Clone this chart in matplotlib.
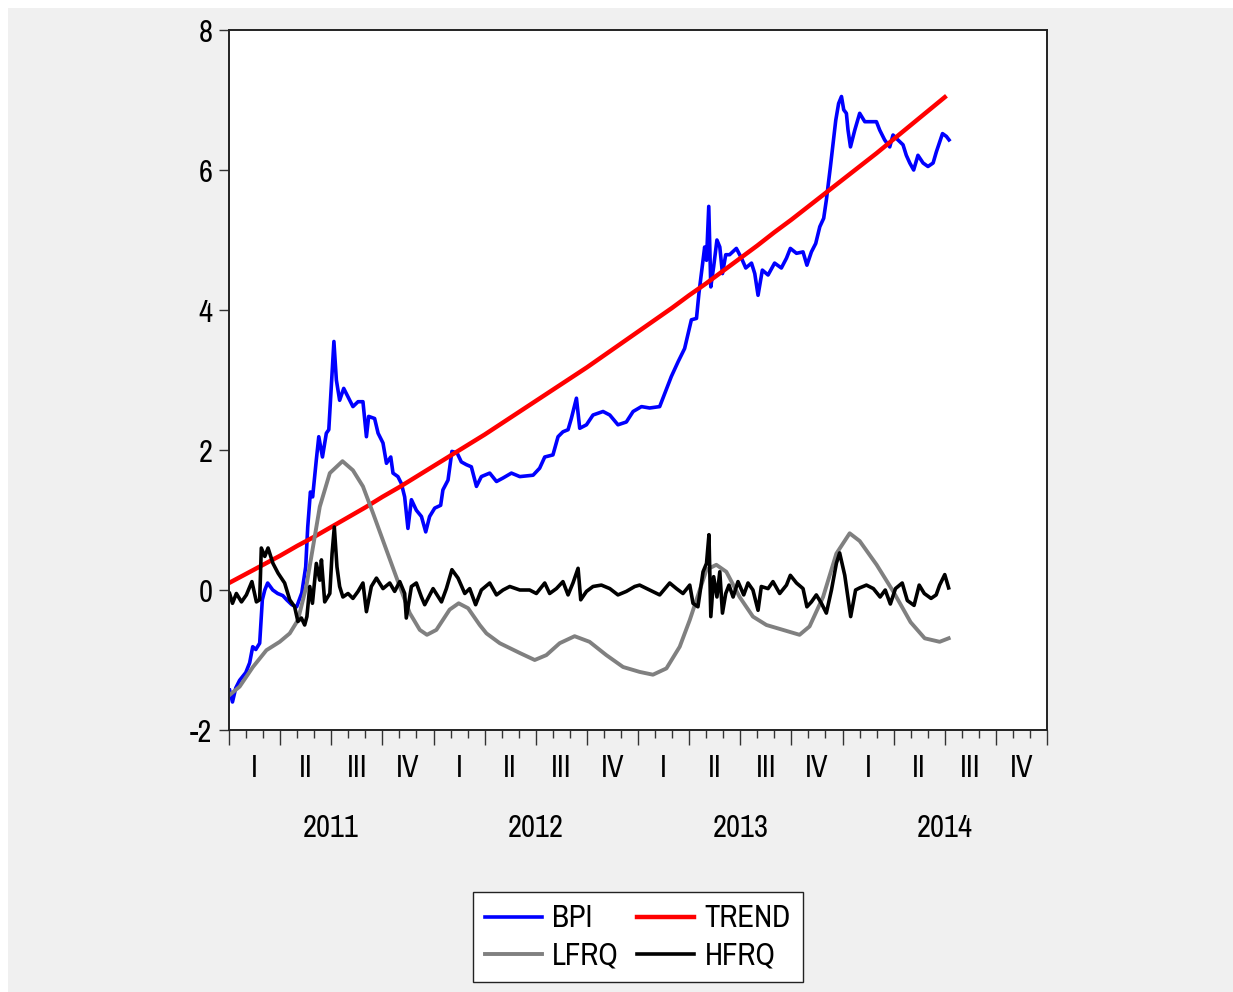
import matplotlib
matplotlib.use("Agg")
import matplotlib.pyplot as plt
from matplotlib.patches import Rectangle
from matplotlib.ticker import FixedLocator, NullFormatter

plt.rcParams['font.family'] = ['Archivo Narrow', 'Liberation Sans', 'DejaVu Sans']

# time axis in decimal years
bpi_t = [2011.003, 2011.017, 2011.033, 2011.052, 2011.082, 2011.101, 2011.116, 2011.131, 2011.150, 2011.163,
         2011.175, 2011.189, 2011.214, 2011.238, 2011.263, 2011.282, 2011.307, 2011.331, 2011.356, 2011.375,
         2011.385, 2011.398, 2011.409, 2011.427, 2011.439, 2011.457, 2011.476, 2011.488, 2011.501, 2011.513,
         2011.525, 2011.541, 2011.561, 2011.582, 2011.606, 2011.631, 2011.655, 2011.672, 2011.683, 2011.712,
         2011.729, 2011.753, 2011.770, 2011.791, 2011.802, 2011.826, 2011.843, 2011.859, 2011.875, 2011.892,
         2011.916, 2011.941, 2011.962, 2011.981, 2012.006, 2012.035, 2012.046, 2012.071, 2012.090, 2012.115,
         2012.136, 2012.161, 2012.185, 2012.210, 2012.234, 2012.275, 2012.308, 2012.340, 2012.381, 2012.422,
         2012.487, 2012.519, 2012.544, 2012.584, 2012.609, 2012.633, 2012.658, 2012.674, 2012.699, 2012.715,
         2012.748, 2012.780, 2012.829, 2012.862, 2012.902, 2012.943, 2012.976, 2013.017, 2013.057, 2013.106,
         2013.131, 2013.163, 2013.196, 2013.228, 2013.249, 2013.261, 2013.286, 2013.298, 2013.310, 2013.326,
         2013.335, 2013.346, 2013.356, 2013.370, 2013.386, 2013.400, 2013.413, 2013.429, 2013.448, 2013.481,
         2013.506, 2013.527, 2013.555, 2013.571, 2013.587, 2013.608, 2013.636, 2013.668, 2013.701, 2013.726,
         2013.745, 2013.775, 2013.807, 2013.826, 2013.848, 2013.869, 2013.889, 2013.908, 2013.921, 2013.941,
         2013.954, 2013.967, 2013.981, 2013.995, 2014.006, 2014.019, 2014.027, 2014.039, 2014.060, 2014.084,
         2014.109, 2014.133, 2014.166, 2014.182, 2014.206, 2014.231, 2014.247, 2014.271, 2014.296, 2014.312,
         2014.329, 2014.348, 2014.369, 2014.394, 2014.418, 2014.443, 2014.459, 2014.475, 2014.489, 2014.508,
         2014.521]
bpi = [-1.43, -1.60, -1.40, -1.29, -1.18, -1.04, -0.81, -0.85, -0.76, -0.14,
       0.00, 0.10, 0.00, -0.05, -0.08, -0.14, -0.21, -0.24, -0.04, 0.33,
       0.90, 1.40, 1.33, 1.86, 2.19, 1.90, 2.24, 2.29, 2.95, 3.55,
       3.00, 2.71, 2.88, 2.76, 2.62, 2.69, 2.69, 2.19, 2.48, 2.45,
       2.24, 2.10, 1.81, 1.90, 1.67, 1.62, 1.52, 1.33, 0.88, 1.29,
       1.14, 1.05, 0.83, 1.05, 1.17, 1.21, 1.43, 1.57, 1.98, 1.96,
       1.83, 1.79, 1.76, 1.48, 1.62, 1.67, 1.55, 1.60, 1.67, 1.62,
       1.64, 1.74, 1.90, 1.93, 2.19, 2.26, 2.29, 2.45, 2.74, 2.31,
       2.36, 2.50, 2.55, 2.50, 2.36, 2.40, 2.55, 2.62, 2.60, 2.62,
       2.81, 3.05, 3.26, 3.45, 3.71, 3.86, 3.88, 4.24, 4.52, 4.90,
       4.71, 5.48, 4.33, 4.62, 5.00, 4.90, 4.52, 4.79, 4.79, 4.88,
       4.74, 4.60, 4.67, 4.52, 4.21, 4.57, 4.50, 4.67, 4.60, 4.74,
       4.88, 4.81, 4.83, 4.64, 4.83, 4.95, 5.19, 5.31, 5.57, 6.05,
       6.38, 6.71, 6.95, 7.05, 6.86, 6.81, 6.57, 6.33, 6.57, 6.81,
       6.69, 6.69, 6.69, 6.57, 6.43, 6.33, 6.50, 6.43, 6.36, 6.21,
       6.10, 6.00, 6.21, 6.10, 6.05, 6.10, 6.26, 6.40, 6.52, 6.48,
       6.43]

# trend, first day of each month 2011-01 .. 2014-07
trend_t = [2011 + m / 12 for m in range(43)]
trend = [0.10, 0.23, 0.36, 0.49, 0.63, 0.76, 0.90, 1.04, 1.18, 1.33,
         1.47, 1.62, 1.77, 1.92, 2.07, 2.22, 2.38, 2.54, 2.70, 2.86,
         3.02, 3.18, 3.35, 3.52, 3.69, 3.86, 4.03, 4.21, 4.38, 4.56,
         4.74, 4.92, 5.11, 5.29, 5.48, 5.67, 5.86, 6.05, 6.24, 6.44,
         6.64, 6.84, 7.04]

lfrq_t = [2011.003, 2011.052, 2011.117, 2011.183, 2011.248, 2011.297, 2011.337, 2011.378, 2011.411, 2011.444,
          2011.493, 2011.555, 2011.606, 2011.655, 2011.704, 2011.770, 2011.835, 2011.884, 2011.933, 2011.968,
          2012.014, 2012.079, 2012.123, 2012.169, 2012.226, 2012.259, 2012.324, 2012.422, 2012.495, 2012.552,
          2012.617, 2012.690, 2012.763, 2012.845, 2012.927, 2013.008, 2013.073, 2013.139, 2013.204, 2013.253,
          2013.286, 2013.335, 2013.383, 2013.432, 2013.497, 2013.562, 2013.628, 2013.709, 2013.790, 2013.839,
          2013.905, 2013.970, 2014.035, 2014.084, 2014.167, 2014.250, 2014.333, 2014.402, 2014.475, 2014.519]
lfrq = [-1.50, -1.38, -1.10, -0.86, -0.74, -0.62, -0.43, 0.05, 0.62, 1.19,
        1.67, 1.84, 1.71, 1.48, 1.10, 0.57, 0.05, -0.33, -0.57, -0.64,
        -0.57, -0.28, -0.19, -0.26, -0.50, -0.62, -0.76, -0.90, -1.00, -0.93,
        -0.76, -0.66, -0.74, -0.93, -1.10, -1.17, -1.21, -1.12, -0.81, -0.43,
        -0.14, 0.29, 0.36, 0.26, -0.10, -0.38, -0.50, -0.57, -0.64, -0.52,
        -0.10, 0.52, 0.81, 0.70, 0.36, -0.03, -0.46, -0.69, -0.74, -0.69]

hfrq_t = [2011.003, 2011.017, 2011.036, 2011.061, 2011.085, 2011.112, 2011.134, 2011.150, 2011.158, 2011.175,
          2011.191, 2011.215, 2011.240, 2011.272, 2011.297, 2011.321, 2011.337, 2011.354, 2011.370, 2011.381,
          2011.395, 2011.408, 2011.427, 2011.444, 2011.452, 2011.468, 2011.493, 2011.504, 2011.515, 2011.528,
          2011.541, 2011.557, 2011.582, 2011.606, 2011.631, 2011.655, 2011.672, 2011.696, 2011.721, 2011.753,
          2011.786, 2011.810, 2011.835, 2011.859, 2011.867, 2011.892, 2011.916, 2011.941, 2011.957, 2011.998,
          2012.039, 2012.063, 2012.090, 2012.120, 2012.153, 2012.177, 2012.206, 2012.234, 2012.275, 2012.308,
          2012.340, 2012.373, 2012.422, 2012.470, 2012.503, 2012.544, 2012.568, 2012.601, 2012.633, 2012.658,
          2012.682, 2012.707, 2012.720, 2012.748, 2012.780, 2012.821, 2012.862, 2012.902, 2012.943, 2012.984,
          2013.008, 2013.057, 2013.106, 2013.155, 2013.188, 2013.220, 2013.253, 2013.269, 2013.293, 2013.318,
          2013.335, 2013.347, 2013.356, 2013.370, 2013.386, 2013.400, 2013.413, 2013.429, 2013.445, 2013.465,
          2013.489, 2013.517, 2013.538, 2013.562, 2013.587, 2013.603, 2013.636, 2013.660, 2013.693, 2013.726,
          2013.745, 2013.775, 2013.807, 2013.826, 2013.848, 2013.872, 2013.897, 2013.921, 2013.946, 2013.970,
          2013.986, 2014.011, 2014.040, 2014.064, 2014.084, 2014.117, 2014.151, 2014.184, 2014.209, 2014.234,
          2014.259, 2014.292, 2014.317, 2014.350, 2014.375, 2014.400, 2014.433, 2014.458, 2014.475, 2014.500,
          2014.519]
hfrq = [-0.05, -0.19, -0.05, -0.17, -0.07, 0.12, -0.17, -0.14, 0.60, 0.48,
        0.60, 0.38, 0.24, 0.10, -0.14, -0.24, -0.45, -0.40, -0.50, -0.38,
        0.05, -0.19, 0.38, 0.14, 0.43, -0.17, -0.05, 0.52, 0.90, 0.33,
        0.05, -0.10, -0.05, -0.12, -0.02, 0.10, -0.31, 0.05, 0.17, 0.02,
        0.10, -0.02, 0.12, -0.05, -0.40, 0.05, 0.10, -0.10, -0.21, 0.02,
        -0.17, 0.02, 0.29, 0.17, -0.05, 0.02, -0.21, 0.00, 0.10, -0.07,
        0.00, 0.05, 0.00, 0.00, -0.05, 0.10, -0.05, 0.02, 0.12, -0.07,
        0.10, 0.31, -0.14, -0.02, 0.05, 0.07, 0.02, -0.07, -0.02, 0.05,
        0.07, 0.00, -0.07, 0.10, 0.02, -0.05, 0.07, -0.19, -0.24, 0.26,
        0.38, 0.79, -0.38, 0.19, -0.10, 0.26, -0.33, -0.05, 0.07, -0.10,
        0.12, -0.07, 0.10, 0.00, -0.29, 0.05, 0.02, 0.12, -0.05, 0.07,
        0.21, 0.10, 0.02, -0.24, -0.17, -0.07, -0.19, -0.33, 0.00, 0.38,
        0.53, 0.21, -0.38, 0.00, 0.03, 0.07, 0.02, -0.10, 0.00, -0.20,
        0.02, 0.10, -0.15, -0.22, 0.07, -0.05, -0.12, -0.07, 0.07, 0.22,
        0.03]

years = [2011, 2012, 2013, 2014]
quarters = ["I", "II", "III", "IV"]

W, H = 1233, 992
fig = plt.figure(figsize=(W / 100, H / 100), dpi=100, facecolor="white")
fig.patches.append(Rectangle((8 / W, 0), 1, 1 - 8 / H, transform=fig.transFigure,
                             facecolor="#f0f0f0", edgecolor="none", zorder=-10))

ax = fig.add_axes([229 / W, 1 - 730 / H, (1047 - 229) / W, 700 / H])
ax.set_facecolor("white")

l_bpi, = ax.plot(bpi_t, bpi, color="#0000ff", lw=2.6, label="BPI")
l_trend, = ax.plot(trend_t, trend, color="#ff0000", lw=3.2, label="TREND")
l_lfrq, = ax.plot(lfrq_t, lfrq, color="#808080", lw=2.8, label="LFRQ")
l_hfrq, = ax.plot(hfrq_t, hfrq, color="black", lw=2.6, label="HFRQ")

ax.set_xlim(2011, 2015)
ax.set_ylim(-2, 8)
ax.set_yticks([-2, 0, 2, 4, 6, 8])
ax.set_yticklabels(["-2", "0", "2", "4", "6", "8"])

ax.xaxis.set_major_locator(FixedLocator([2011 + q / 4 for q in range(17)]))
ax.xaxis.set_minor_locator(FixedLocator([2011 + m / 12 for m in range(49)]))
ax.xaxis.set_major_formatter(NullFormatter())
ax.tick_params(axis="x", which="major", direction="out", length=11, width=1.0, color="#333333")
ax.tick_params(axis="x", which="minor", direction="out", length=6, width=1.0, color="#333333")
ax.tick_params(axis="y", direction="out", length=7, width=1.0, pad=5, labelsize=22, color="#333333")

for s in ax.spines.values():
    s.set_linewidth(1.4)
    s.set_color("#222222")

xt = ax.get_xaxis_transform()
for i, y in enumerate(years):
    for j, q in enumerate(quarters):
        ax.text(y + (j + 0.5) / 4, -38 / 700, q, transform=xt, ha="center", va="center", fontsize=22)
    ax.text(y + 0.5, -98 / 700, str(y), transform=xt, ha="center", va="center", fontsize=22)

# row-major order like the original: BPI TREND / LFRQ HFRQ
fig.legend([l_bpi, l_lfrq, l_trend, l_hfrq], ["BPI", "LFRQ", "TREND", "HFRQ"],
           loc="center", bbox_to_anchor=(638 / W, 1 - 937 / H), ncol=2, fontsize=22,
           frameon=True, fancybox=False, edgecolor="#222222", framealpha=1,
           handlelength=1.85, handletextpad=0.35, columnspacing=0.6, labelspacing=0.3,
           borderpad=0.4, borderaxespad=0)

fig.savefig("out.png", dpi=100)
